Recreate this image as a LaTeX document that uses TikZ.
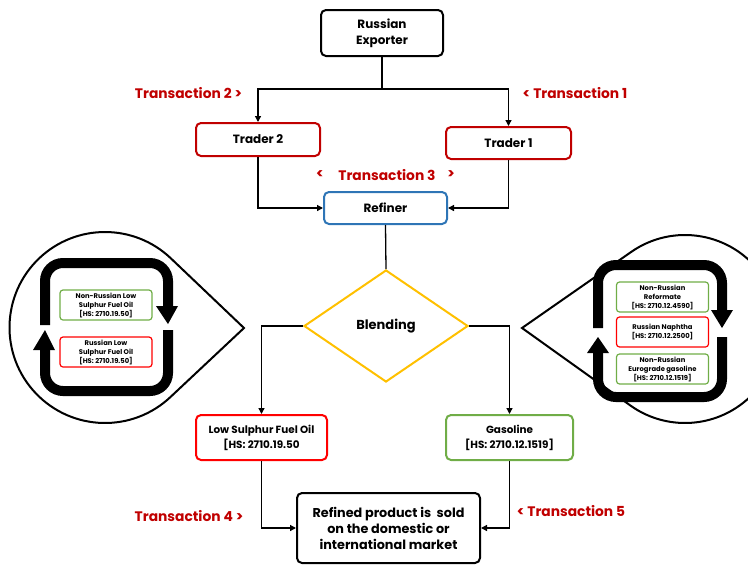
\documentclass[tikz,border=0pt]{standalone}
\usepackage{fontspec}
\setmainfont{Poppins}
\usetikzlibrary{arrows.meta,shapes.geometric}
\definecolor{dred}{HTML}{C00000}
\definecolor{bred}{HTML}{FF0000}
\definecolor{grn}{HTML}{70AD47}
\definecolor{blu}{HTML}{2E75B6}
\definecolor{yel}{HTML}{FFC000}
\tikzset{
  box/.style={draw,rounded corners=5pt,line width=2pt,align=center,font=\bfseries\fontsize{12}{16}\selectfont,inner sep=0pt},
  small/.style={draw,rounded corners=3pt,line width=1.2pt,align=center,font=\bfseries\fontsize{6.8}{9}\selectfont,inner sep=0pt,minimum width=92pt,minimum height=30pt},
  conn/.style={line width=1.3pt,-{Triangle[length=6pt,width=6pt]}},
  plain/.style={line width=1.3pt},
  tlabel/.style={text=dred,font=\bfseries\fontsize{13.8}{16}\selectfont,inner sep=0pt},
  loop/.style={line width=10pt,rounded corners=18pt},
  bubble/.style={line width=2pt}
}
\begin{document}
\begin{tikzpicture}[x=1pt,y=-1pt]
\useasboundingbox (0,0) rectangle (748,565);
% main nodes
\node[box,minimum width=122pt,minimum height=46pt] (exp) at (382,33) {Russian\\Exporter};
\node[box,draw=dred,minimum width=124pt,minimum height=33pt] (t2) at (258,139.5) {Trader 2};
\node[box,draw=dred,minimum width=125pt,minimum height=32pt] (t1) at (508.5,143) {Trader 1};
\node[box,draw=blu,minimum width=123pt,minimum height=32pt] (ref) at (385.5,208) {Refiner};
\node[diamond,draw=yel,line width=2pt,minimum width=164pt,minimum height=112pt,inner sep=0pt,font=\bfseries\fontsize{13}{16}\selectfont] (bl) at (386,326) {Blending};
\node[box,draw=bred,minimum width=131pt,minimum height=45pt,font=\bfseries\fontsize{10.4}{15}\selectfont] (lsfo) at (261.5,437.5) {Low Sulphur Fuel Oil\\{}[HS: 2710.19.50};
\node[box,draw=grn,minimum width=127pt,minimum height=45pt,font=\bfseries\fontsize{10.4}{15}\selectfont] (gas) at (509.5,437.5) {Gasoline\\{}[HS: 2710.12.1519]};
\node[box,minimum width=183pt,minimum height=70pt,font=\bfseries\fontsize{12.8}{16}\selectfont] (mkt) at (388.5,528) {Refined product is\ \ sold\\on the domestic or\\international market};
% labels
\node[tlabel] (l2) at (188.5,93) {Transaction 2 >};
\node[tlabel] (l1) at (575,93) {< Transaction 1};
\node[tlabel] (l3a) at (320,175) {<};
\node[tlabel] (l3) at (387,175) {Transaction 3};
\node[tlabel] (l3b) at (451,175) {>};
\node[tlabel] (l4) at (189,516) {Transaction 4 >};
\node[tlabel] (l5) at (571,511) {< Transaction 5};
% connectors
\coordinate (s1) at (exp.south |- 0,89);
\draw[plain] (exp.south) -- (s1);
\draw[conn] (s1) -| (t2.north);
\draw[conn] (s1) -| (t1.north);
\draw[conn] (t2.south) |- (ref.west);
\draw[conn] (t1.south) |- (ref.east);
\draw[plain] (ref.south) -- (bl.north);
\draw[conn] (bl.west) -| (lsfo.north);
\draw[conn] (bl.east) -| (gas.north);
\draw[conn] (lsfo.south) |- (mkt.west);
\draw[conn] (gas.south) |- (mkt.east);
% left bubble
\draw[bubble] (105,327.5) ++(46.5:95.5) arc[start angle=46.5,end angle=313.5,radius=95.5] -- (244,328) -- cycle;
\draw[loop] (45,325) -- (45,263) -- (168,263) -- (168,308);
\fill (156,306) -- (178,306) -- (168,324) -- cycle;
\draw[loop] (168,330) -- (168,391) -- (45,391) -- (45,348);
\fill (33,350) -- (55,350) -- (45,330) -- cycle;
\node[small,draw=grn] (lg) at (106,305) {Non-Russian Low\\Sulphur Fuel Oil\\{}[HS: 2710.19.50]};
\node[small,draw=bred] (lr) at (106,352) {Russian Low\\Sulphur Fuel Oil\\{}[HS: 2710.19.50]};
% right bubble
\draw[bubble] (685,329) ++(234.8:94) arc[start angle=234.8,end angle=485.2,radius=94] -- (522,328) -- cycle;
\draw[loop] (598,328) -- (598,265) -- (722,265) -- (722,312);
\fill (711,310) -- (733,310) -- (722,328) -- cycle;
\draw[loop] (722,337) -- (722,397) -- (598,397) -- (598,352);
\fill (587,353) -- (609,353) -- (598,337) -- cycle;
\node[small,draw=grn] (rg1) at (662.5,297) {Non-Russian\\Reformate\\{}[HS: 2710.12.4590]};
\node[small,draw=bred] (rr) at (662.5,332) {Russian Naphtha\\{}[HS: 2710.12.2500]};
\node[small,draw=grn] (rg2) at (662.5,369) {Non-Russian\\Eurograde gasoline\\{}[HS: 2710.12.1519]};
\end{tikzpicture}
\end{document}
